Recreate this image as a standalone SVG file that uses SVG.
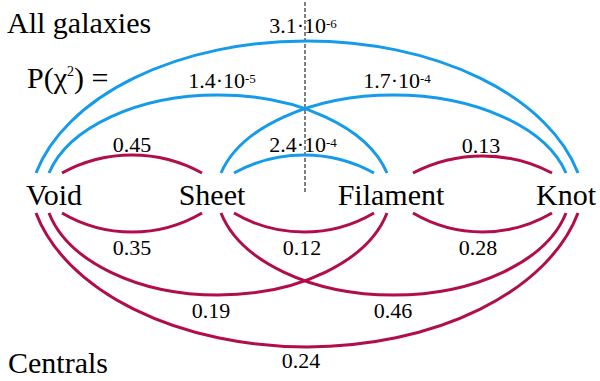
<svg xmlns="http://www.w3.org/2000/svg" width="600" height="381" viewBox="0 0 600 381">
<style>
text{font-family:"Liberation Serif","Times New Roman",Times,"Nimbus Roman","Nimbus Roman No9 L","Noto Serif","DejaVu Serif",FreeSerif,Tinos,serif;fill:#000}
.node{font-size:30px;text-anchor:middle}
.title{font-size:30px}
.num{font-size:22px;text-anchor:middle}
.sup{font-size:13px}
.blue{fill:none;stroke:#169BEA;stroke-width:3}
.red{fill:none;stroke:#B20D4B;stroke-width:3}
</style>
<rect width="600" height="381" fill="#fff"/>
<text class="title" x="7" y="33">All galaxies</text>
<text class="title" x="27" y="88">P(χ<tspan font-size="14" dy="-12">2</tspan><tspan dy="12">) =</tspan></text>
<text class="title" x="8" y="373">Centrals</text>
<line x1="305" y1="2" x2="305" y2="192" stroke="#000" stroke-width="1" stroke-dasharray="4,2"/>
<g id="connectors">
  <path class="blue" d="M36,173 A278.6,172 0 0 1 578,173"/>
  <path class="blue" d="M49,173 A174.2,103 0 0 1 387,173"/>
  <path class="blue" d="M221,173 A177.8,103 0 0 1 566,173"/>
  <path class="blue" d="M234,173 A145,145 0 0 1 374,173"/>
  <path class="red" d="M62,173 A145,145 0 0 1 202,173"/>
  <path class="red" d="M413,173 A150,150 0 0 1 552,173"/>
  <path class="red" d="M62,213 A138,138 0 0 0 202,213"/>
  <path class="red" d="M234,213 A138,138 0 0 0 374,213"/>
  <path class="red" d="M413,213 A137,137 0 0 0 552,213"/>
  <path class="red" d="M49,213 A173.8,107 0 0 0 387,213"/>
  <path class="red" d="M221,213 A177.4,107 0 0 0 566,213"/>
  <path class="red" d="M36,213 A278.5,174 0 0 0 578,213"/>
  <text class="num" x="303" y="33">3.1·10<tspan class="sup" dy="-5">-6</tspan></text>
  <text class="num" x="222" y="88">1.4·10<tspan class="sup" dy="-5">-5</tspan></text>
  <text class="num" x="397" y="88">1.7·10<tspan class="sup" dy="-5">-4</tspan></text>
  <text class="num" x="303" y="152">2.4·10<tspan class="sup" dy="-5">-4</tspan></text>
  <text class="num" x="132" y="152">0.45</text>
  <text class="num" x="481" y="153">0.13</text>
  <text class="num" x="132" y="255">0.35</text>
  <text class="num" x="302" y="255">0.12</text>
  <text class="num" x="478" y="255">0.28</text>
  <text class="num" x="211" y="318">0.19</text>
  <text class="num" x="393" y="318">0.46</text>
  <text class="num" x="301" y="368">0.24</text>
</g>
<g id="node-void"><text class="node" x="54" y="205">Void</text></g>
<g id="node-sheet"><text class="node" x="212" y="205">Sheet</text></g>
<g id="node-filament"><text class="node" x="391" y="205">Filament</text></g>
<g id="node-knot"><text class="node" x="566" y="205">Knot</text></g>
</svg>
